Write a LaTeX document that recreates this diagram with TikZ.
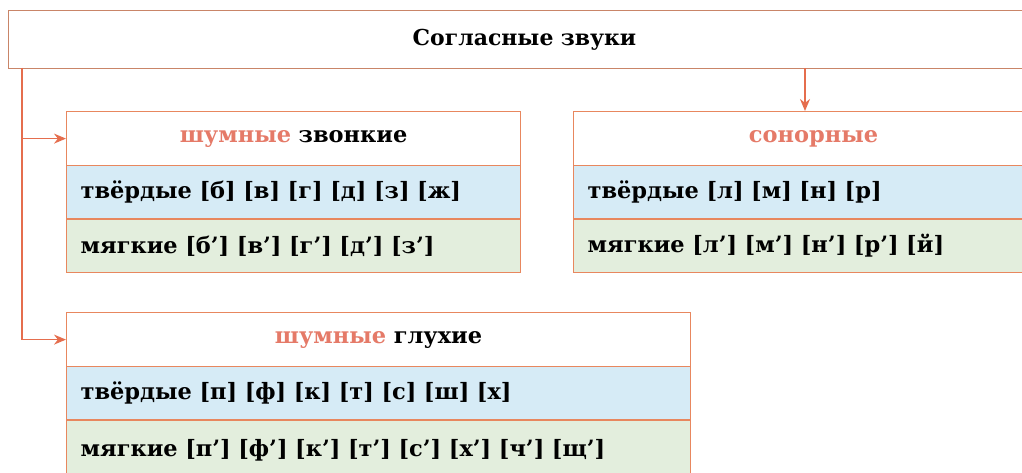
\documentclass[tikz,border=0pt]{standalone}
\usepackage{fontspec}
\setmainfont{DejaVu Serif}
\usepackage{xcolor}
\usetikzlibrary{arrows.meta,positioning}

\definecolor{frameorange}{HTML}{E8875E}
\definecolor{linkred}{HTML}{E56E4E}
\definecolor{noisyred}{HTML}{E57A68}
\definecolor{hardblue}{HTML}{D6EBF6}
\definecolor{softgreen}{HTML}{E3EEDD}

\begin{document}
\begin{tikzpicture}[
    x=0.02cm, y=-0.02cm,
    frame/.style={draw=frameorange, line width=0.7pt},
    head/.style={frame, fill=white, anchor=north west, font=\bfseries\fontsize{12.8}{15}\selectfont,
        minimum height=1.08cm, text width=#1, align=center, inner xsep=0pt},
    row/.style={frame, anchor=north west, font=\bfseries\fontsize{12.8}{15}\selectfont,
        minimum height=1.07cm, text width=#1, align=left, inner xsep=0.28cm},
    hard/.style={row=#1, fill=hardblue},
    soft/.style={row=#1, fill=softgreen},
    link/.style={-{Stealth[length=2.4mm,width=2mm]}, draw=linkred, line width=0.8pt},
]
    \useasboundingbox (0,0) rectangle (1022,473);
    \clip (0,0) rectangle (1022,473);

    % Title
    \node[frame, anchor=north west, minimum height=1.16cm, text width=20.64cm, align=center,
        inner xsep=0pt, font=\bfseries\fontsize{12.5}{15}\selectfont, draw=frameorange!70!gray] (title) at (8,10)
        {Согласные звуки};

    % Voiced noisy
    \node[head=9.08cm] (head1) at (66,111) {\textcolor{noisyred}{шумные} звонкие};
    \node[hard=8.52cm] (hard1) at (66,165) {твёрдые [б] [в] [г] [д] [з] [ж]};
    \node[soft=8.52cm] (soft1) at (66,218.5) {мягкие [б’] [в’] [г’] [д’] [з’]};

    % Sonorant
    \node[head=9.6cm] (head2) at (573,111) {\textcolor{noisyred}{сонорные}};
    \node[hard=9.04cm] (hard2) at (573,165) {твёрдые [л] [м] [н] [р]};
    \node[soft=9.04cm] (soft2) at (573,218.5) {мягкие [л’] [м’] [н’] [р’] [й]};

    % Voiceless noisy
    \node[head=12.48cm] (head3) at (66,312) {\textcolor{noisyred}{шумные} глухие};
    \node[hard=11.92cm] (hard3) at (66,366) {твёрдые [п] [ф] [к] [т] [с] [ш] [х]};
    \node[soft=11.92cm, minimum height=1.2cm] (soft3) at (66,419.5) {мягкие [п’] [ф’] [к’] [т’] [с’] [х’] [ч’] [щ’]};

    % Connectors
    \coordinate (trunk) at (22,68);
    \coordinate (branch) at (805,68);
    \draw[link] (trunk) |- (head1.west);
    \draw[link] (trunk) |- (head3.west);
    \draw[link] (branch) -- (branch |- head2.north);
\end{tikzpicture}
\end{document}
